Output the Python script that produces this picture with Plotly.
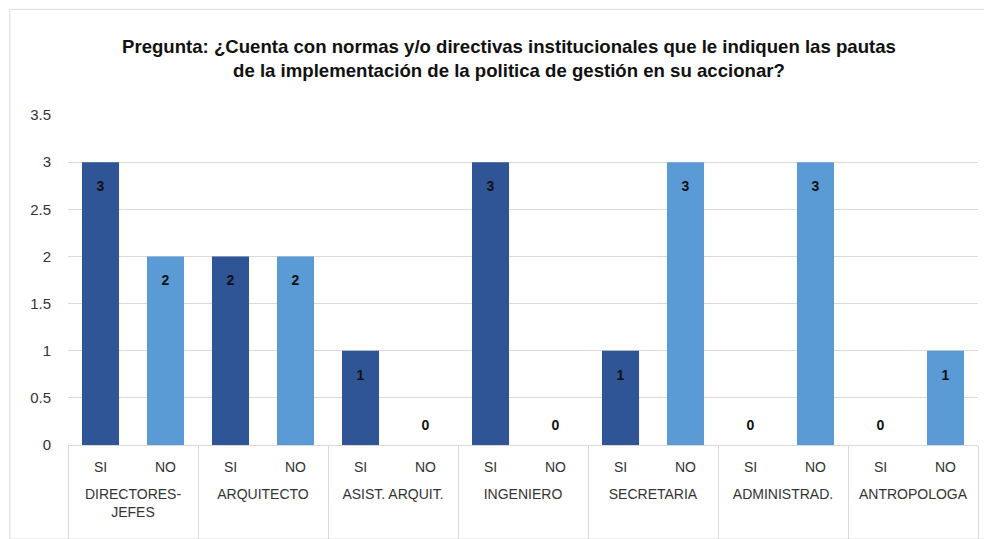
import plotly.graph_objects as go

groups = ["DIRECTORES-<br>JEFES", "ARQUITECTO", "ASIST. ARQUIT.", "INGENIERO",
          "SECRETARIA", "ADMINISTRAD.", "ANTROPOLOGA"]
answers = ["SI", "NO"]
si_values = [3, 2, 1, 3, 1, 0, 0]
no_values = [2, 2, 0, 0, 3, 3, 1]

SI_COLOR = "#2F5597"
NO_COLOR = "#5B9BD5"
FONT = "Liberation Sans, Arial, sans-serif"

x_group, x_sub, y, colors = [], [], [], []
for g, s, n in zip(groups, si_values, no_values):
    for ans, v in zip(answers, (s, n)):
        # trailing blank lines stretch the category area like the original
        x_group.append(g + "<br> ")
        x_sub.append(ans + "<br> ")
        y.append(v)
        colors.append(SI_COLOR if ans == "SI" else NO_COLOR)

# value labels sit a little below the bar top, zeros a little above the baseline
label_y = [v - 0.27 if v > 0 else v + 0.2 for v in y]

fig = go.Figure()
fig.add_trace(go.Bar(
    x=[x_group, x_sub],
    y=y,
    marker=dict(color=colors, line=dict(width=0)),
    hoverinfo="x+y",
))
fig.add_trace(go.Scatter(
    x=[x_group, x_sub],
    y=label_y,
    mode="text",
    text=[str(v) for v in y],
    textposition="middle center",
    textfont=dict(family=FONT, size=14, color="#111111", weight="bold"),
    hoverinfo="skip",
    cliponaxis=False,
))

# page body has an 8px margin, so margins are shifted by that much
fig.update_layout(
    width=992,
    height=539,
    paper_bgcolor="white",
    plot_bgcolor="white",
    margin=dict(l=60, r=22, t=107, b=102),
    bargap=0.43,
    showlegend=False,
    title=dict(
        text="<b>Pregunta: ¿Cuenta con normas y/o directivas institucionales que le indiquen las pautas<br>"
             "de la implementación de la politica de gestión en su accionar?</b>",
        x=0.505, xanchor="center", y=0.917, yanchor="middle",
        font=dict(family=FONT, size=18.6, color="#111111"),
    ),
    font=dict(family=FONT, size=14, color="#333333"),
)

fig.update_yaxes(
    range=[0, 3.5],
    dtick=0.5,
    showgrid=True,
    gridcolor="#d9d9d9",
    gridwidth=1,
    zeroline=False,
    showline=False,
    ticks="",
    automargin=False,
    tickfont=dict(family=FONT, size=15, color="#333333"),
    ticklabelstandoff=16,
)
fig.update_xaxes(
    range=[-0.5, len(y) - 0.5],
    showdividers=True,
    dividercolor="#d9d9d9",
    dividerwidth=1,
    showline=True,
    linecolor="#d9d9d9",
    ticks="",
    automargin=False,
    ticklabelstandoff=9,
    tickfont=dict(family=FONT, size=14, color="#333333"),
)

fig.add_shape(type="rect", xref="paper", yref="paper",
              x0=-0.064, x1=1.012, y0=-0.285, y1=1.32,
              line=dict(color="#d9d9d9", width=1), layer="below")

fig.write_html("out.html")
